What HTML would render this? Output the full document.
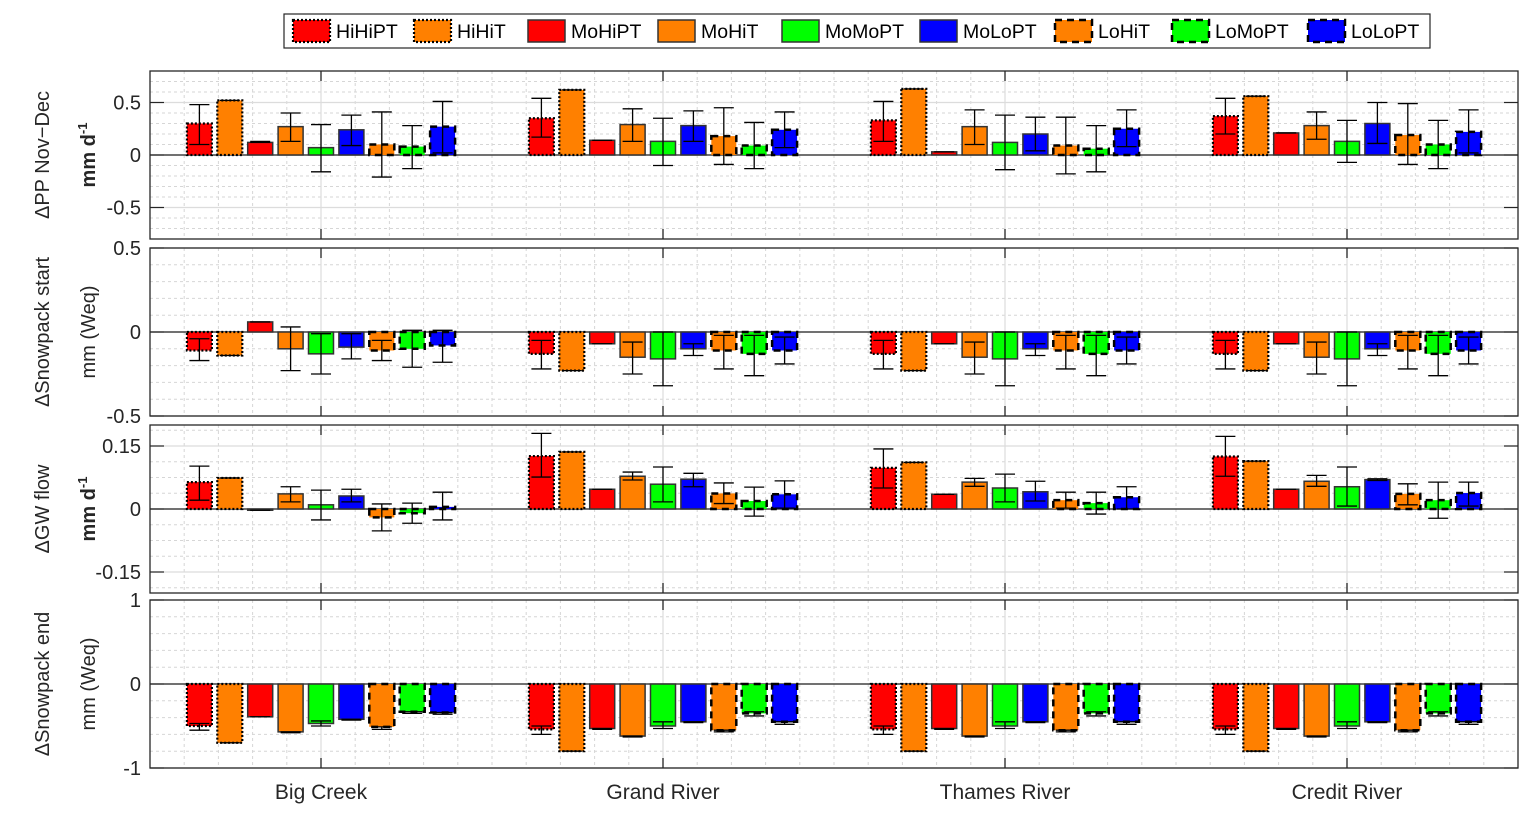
<!DOCTYPE html>
<html><head><meta charset="utf-8"><style>
html,body{margin:0;padding:0;background:#fff;}
svg{display:block;font-family:"Liberation Sans",Arial,sans-serif;}
</style></head><body>
<svg id="chart" width="1532" height="818" viewBox="0 0 1532 818" xmlns="http://www.w3.org/2000/svg"></svg>
<script>
const groups = ["Big Creek","Grand River","Thames River","Credit River"];
const seriesNames = ["HiHiPT","HiHiT","MoHiPT","MoHiT","MoMoPT","MoLoPT","LoHiT","LoMoPT","LoLoPT"];
const seriesColors = ["#ff0000","#ff8000","#ff0000","#ff8000","#00ff00","#0000ff","#ff8000","#00ff00","#0000ff"];
const seriesStyle = ["dot","dot","solid","solid","solid","solid","dash","dash","dash"];

// Panel 1: ΔPP Nov-Dec — values, error low, error high (per group, per series)
const ppVal = [[0.30,0.52,0.12,0.27,0.07,0.24,0.10,0.08,0.27],[0.35,0.62,0.14,0.29,0.13,0.28,0.18,0.09,0.24],[0.33,0.63,0.03,0.27,0.12,0.20,0.09,0.06,0.25],[0.37,0.56,0.21,0.28,0.13,0.30,0.19,0.10,0.22]];
const ppLo  = [[0.10,0.52,0.12,0.13,-0.16,0.09,-0.21,-0.13,0.02],[0.17,0.62,0.14,0.13,-0.10,0.13,-0.09,-0.13,0.07],[0.13,0.63,0.03,0.10,-0.14,0.04,-0.18,-0.16,0.08],[0.20,0.56,0.21,0.15,-0.07,0.11,-0.09,-0.13,0.02]];
const ppHi  = [[0.48,0.52,0.13,0.40,0.29,0.38,0.41,0.28,0.51],[0.54,0.62,0.14,0.44,0.35,0.42,0.45,0.31,0.41],[0.51,0.63,0.03,0.43,0.38,0.36,0.36,0.28,0.43],[0.54,0.56,0.21,0.41,0.33,0.50,0.49,0.33,0.43]];
// Panel 2: ΔSnowpack start
const ssVal = [[-0.11,-0.14,0.06,-0.10,-0.13,-0.09,-0.11,-0.10,-0.08],[-0.13,-0.23,-0.07,-0.15,-0.16,-0.10,-0.11,-0.13,-0.11],[-0.13,-0.23,-0.07,-0.15,-0.16,-0.10,-0.11,-0.13,-0.11],[-0.13,-0.23,-0.07,-0.15,-0.16,-0.10,-0.11,-0.13,-0.11]];
const ssLo  = [[-0.17,-0.14,0.06,-0.23,-0.25,-0.16,-0.17,-0.21,-0.18],[-0.22,-0.23,-0.07,-0.25,-0.32,-0.14,-0.22,-0.26,-0.19],[-0.22,-0.23,-0.07,-0.25,-0.32,-0.14,-0.22,-0.26,-0.19],[-0.22,-0.23,-0.07,-0.25,-0.32,-0.14,-0.22,-0.26,-0.19]];
const ssHi  = [[-0.04,-0.14,0.06,0.03,-0.01,-0.01,-0.05,0.01,0.01],[-0.05,-0.23,-0.07,-0.06,0.00,-0.07,-0.02,-0.02,-0.03],[-0.05,-0.23,-0.07,-0.06,0.00,-0.07,-0.02,-0.02,-0.03],[-0.05,-0.23,-0.07,-0.06,0.00,-0.07,-0.02,-0.02,-0.03]];
// Panel 3: ΔGW flow
const gwVal = [[0.064,0.074,-0.003,0.036,0.010,0.031,-0.020,-0.010,0.005],[0.126,0.136,0.047,0.078,0.059,0.071,0.037,0.019,0.035],[0.098,0.111,0.035,0.064,0.050,0.041,0.021,0.014,0.028],[0.125,0.114,0.047,0.066,0.053,0.070,0.036,0.021,0.038]];
const gwLo  = [[0.021,0.074,-0.003,0.017,-0.026,0.017,-0.052,-0.034,-0.026],[0.076,0.136,0.047,0.069,0.017,0.053,0.013,-0.017,0.002],[0.050,0.111,0.035,0.054,0.017,0.019,0.002,-0.012,0.000],[0.078,0.114,0.047,0.054,0.007,0.068,0.010,-0.022,0.007]];
const gwHi  = [[0.102,0.074,-0.003,0.053,0.045,0.047,0.012,0.014,0.040],[0.180,0.136,0.047,0.088,0.100,0.085,0.062,0.052,0.067],[0.143,0.111,0.035,0.073,0.083,0.066,0.040,0.040,0.053],[0.173,0.114,0.047,0.080,0.100,0.072,0.060,0.064,0.064]];
// Panel 4: ΔSnowpack end
const seVal = [[-0.50,-0.70,-0.39,-0.57,-0.47,-0.42,-0.51,-0.33,-0.34],[-0.54,-0.80,-0.53,-0.62,-0.50,-0.45,-0.55,-0.35,-0.45],[-0.54,-0.80,-0.53,-0.62,-0.50,-0.45,-0.55,-0.35,-0.45],[-0.54,-0.80,-0.53,-0.62,-0.50,-0.45,-0.55,-0.35,-0.45]];
const seLo  = [[-0.55,-0.70,-0.39,-0.58,-0.50,-0.43,-0.54,-0.35,-0.36],[-0.60,-0.80,-0.54,-0.63,-0.53,-0.46,-0.57,-0.38,-0.48],[-0.60,-0.80,-0.54,-0.63,-0.53,-0.46,-0.57,-0.38,-0.48],[-0.60,-0.80,-0.54,-0.63,-0.53,-0.46,-0.57,-0.38,-0.48]];
const seHi  = [[-0.47,-0.70,-0.39,-0.57,-0.44,-0.42,-0.51,-0.33,-0.34],[-0.50,-0.80,-0.53,-0.62,-0.45,-0.45,-0.55,-0.33,-0.45],[-0.50,-0.80,-0.53,-0.62,-0.45,-0.45,-0.55,-0.33,-0.45],[-0.50,-0.80,-0.53,-0.62,-0.45,-0.45,-0.55,-0.33,-0.45]];

const ppTicks = ["0.5","0","-0.5"];
const ssTicks = ["0.5","0","-0.5"];
const gwTicks = ["0.15","0","-0.15"];
const seTicks = ["1","0","-1"];

const NS="http://www.w3.org/2000/svg";
const svg=document.getElementById('chart');
function mk(tag,attrs,parent){const e=document.createElementNS(NS,tag);for(const k in attrs)e.setAttribute(k,attrs[k]);(parent||svg).appendChild(e);return e;}

const X0=150,X1=1518;
function xs(u){return X0+(u+0.5)*(X1-X0)/4;}
const barStep=30.4, barW=25;

const panels=[
 {name:"pp",top:71,bot:239,min:-0.8,max:0.8,major:[0.5,0,-0.5],labels:ppTicks,minor:0.1,val:ppVal,lo:ppLo,hi:ppHi,t1:"\u0394PP Nov\u2212Dec",t2:"mm d",sup:true},
 {name:"snow-start",top:248,bot:416,min:-0.5,max:0.5,major:[0.5,0,-0.5],labels:ssTicks,minor:0.1,val:ssVal,lo:ssLo,hi:ssHi,t1:"\u0394Snowpack  start",t2:"mm (Weq)",sup:false},
 {name:"gw-flow",top:425,bot:593,min:-0.2,max:0.2,major:[0.15,0,-0.15],labels:gwTicks,minor:0.0375,val:gwVal,lo:gwLo,hi:gwHi,t1:"\u0394GW flow",t2:"mm d",sup:true},
 {name:"snow-end",top:600,bot:768,min:-1,max:1,major:[1,0,-1],labels:seTicks,minor:0.2,val:seVal,lo:seLo,hi:seHi,t1:"\u0394Snowpack end",t2:"mm (Weq)",sup:false}
];

panels.forEach(p=>{
  const g=mk('g',{});
  
  
  const ys=v=>p.bot-(v-p.min)/(p.max-p.min)*(p.bot-p.top);
  for(let v=0;v<=p.max+1e-9;v+=p.minor){[v,-v].forEach(w=>{if(w>=p.min&&w<=p.max)mk('line',{x1:X0,x2:X1,y1:ys(w),y2:ys(w),stroke:'#d6d6d6','stroke-dasharray':'3,3','stroke-width':1},g);});}
  for(let k=-5;k<=35;k++){const x=xs(k/10);if(k%10===0)continue;mk('line',{x1:x,x2:x,y1:p.top,y2:p.bot,stroke:'#d6d6d6','stroke-dasharray':'3,3','stroke-width':1},g);}
  p.major.forEach(v=>mk('line',{x1:X0,x2:X1,y1:ys(v),y2:ys(v),stroke:'#dcdcdc','stroke-width':1.2},g));
  for(let i=0;i<4;i++){const x=xs(i);mk('line',{x1:x,x2:x,y1:p.top,y2:p.bot,stroke:'#dcdcdc','stroke-width':1.2},g);}
  mk('line',{x1:X0,x2:X1,y1:ys(0),y2:ys(0),stroke:'#222','stroke-width':1.2},g);
  for(let gi=0;gi<4;gi++){
    for(let s=0;s<9;s++){
      const cx=xs(gi)+(s-4)*barStep;
      const v=p.val[gi][s];
      const y0=ys(0),y1=ys(v);
      const attrs={x:cx-barW/2,y:Math.min(y0,y1),width:barW,height:Math.max(Math.abs(y1-y0),0.8),fill:seriesColors[s]};
      if(seriesStyle[s]==='dot'){attrs.stroke='#000';attrs['stroke-width']=2.2;attrs['stroke-dasharray']='2,2';}
      else if(seriesStyle[s]==='dash'){attrs.stroke='#000';attrs['stroke-width']=2.5;attrs['stroke-dasharray']='7,5';}
      else {attrs.stroke='#333';attrs['stroke-width']=1.5;}
      const r=mk('rect',attrs,g);
      
      
      const yl=ys(p.lo[gi][s]),yh=ys(p.hi[gi][s]);
      const eb=mk('path',{d:`M${cx},${yl}V${yh}M${cx-10},${yl}H${cx+10}M${cx-10},${yh}H${cx+10}`,stroke:'#000','stroke-width':1.3,fill:'none'},g);
      
      
    }
  }
  mk('rect',{x:X0,y:p.top,width:X1-X0,height:p.bot-p.top,fill:'none',stroke:'#262626','stroke-width':1.3},g);
  p.major.forEach((v,i)=>{
    const y=ys(v);
    mk('line',{x1:X0,x2:X0+14,y1:y,y2:y,stroke:'#262626','stroke-width':1.2},g);
    mk('line',{x1:X1-14,x2:X1,y1:y,y2:y,stroke:'#262626','stroke-width':1.2},g);
    const t=mk('text',{x:141,y:y+7,'text-anchor':'end','font-size':20,fill:'#262626'},g);
    t.textContent=p.labels[i];
    
    
  });
  for(let i=0;i<4;i++){const x=xs(i);
    mk('line',{x1:x,x2:x,y1:p.top,y2:p.top+10,stroke:'#262626','stroke-width':1.3},g);
    mk('line',{x1:x,x2:x,y1:p.bot-10,y2:p.bot,stroke:'#262626','stroke-width':1.3},g);}
  const cy=(p.top+p.bot)/2;
  const t1=mk('text',{x:0,y:0,transform:`translate(49,${cy}) rotate(-90)`,'text-anchor':'middle','font-size':20,fill:'#262626'},g);
  t1.textContent=p.t1;
  
  
  const t2=mk('text',{x:0,y:0,transform:`translate(95,${cy}) rotate(-90)`,'text-anchor':'middle','font-size':20,fill:'#262626','font-weight':p.sup?'bold':'normal'},g);
  t2.textContent=p.t2;
  if(p.sup){const ts=mk('tspan',{dy:-8,'font-size':13},t2);ts.textContent='-1';}
  
  
});

groups.forEach((n,i)=>{
  const t=mk('text',{x:xs(i),y:799,'text-anchor':'middle','font-size':21,fill:'#262626'});
  t.textContent=n;
  
  
});

const lg=mk('g',{});


mk('rect',{x:284,y:14,width:1146,height:34,fill:'#fff',stroke:'#262626','stroke-width':1.2},lg);
const lx=[293,414,528,658,782,920,1055,1172,1308];
seriesNames.forEach((n,s)=>{
  const e=mk('g',{},lg);
  
  
  const a={x:lx[s],y:20,width:37,height:22,fill:seriesColors[s]};
  if(seriesStyle[s]==='dot'){a.stroke='#000';a['stroke-width']=2.2;a['stroke-dasharray']='2,2';}
  else if(seriesStyle[s]==='dash'){a.stroke='#000';a['stroke-width']=2.5;a['stroke-dasharray']='7,5';}
  else {a.stroke='#333';a['stroke-width']=1.5;}
  mk('rect',a,e);
  const t=mk('text',{x:lx[s]+43,y:38,'font-size':19.5,fill:'#000'},e);
  t.textContent=n;
});
</script>
</body></html>
